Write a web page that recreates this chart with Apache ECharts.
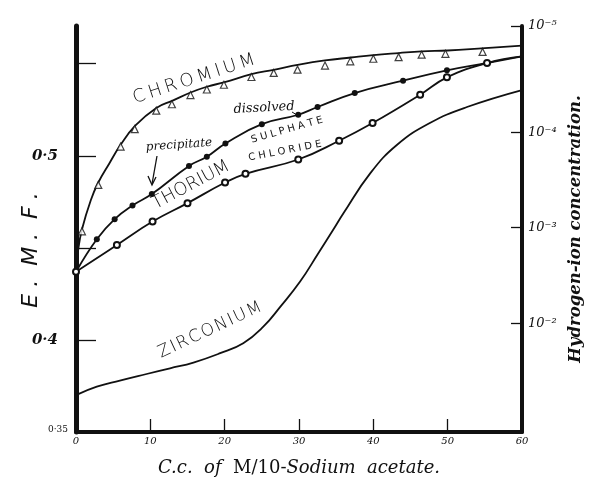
<!DOCTYPE html>
<html>
<head>
<meta charset="utf-8">
<script src="https://cdn.jsdelivr.net/npm/echarts@6/dist/echarts.min.js"></script>
<style>
html,body{margin:0;padding:0;background:#fff;}
#chart{width:590px;height:480px;}
</style>
</head>
<body>
<div id="chart"></div>
<script>
// ---- data ----
const xTickLabels = [0, 10, 20, 30, 40, 50, 60];
const emfLabelValues = [0.35, 0.4, 0.5];
const emfLabelTexts = ['0·35', '0·4', '0·5'];
const emfTickValues = [0.4, 0.45, 0.5, 0.55];
const hydrogenLabels = ['10⁻⁵', '10⁻⁴', '10⁻³', '10⁻²'];
const hydrogenEmf = [0.5705, 0.5127, 0.461, 0.4091];

const chromiumCurveX = [0, 0.3, 0.8, 2, 3, 4.5, 6, 8, 10.8, 13, 15.5, 17.6, 20, 23.6, 26.6, 30, 33.5, 37, 40, 43.4, 46.5, 50, 55, 60];
const chromiumCurveY = [0.437, 0.449, 0.460, 0.476, 0.4855, 0.496, 0.506, 0.5165, 0.526, 0.530, 0.5345, 0.5375, 0.540, 0.5443, 0.5467, 0.5495, 0.5518, 0.5534, 0.5547, 0.5558, 0.5567, 0.5572, 0.5585, 0.5598];
const chromiumMarkX = [0.8, 3.0, 6.0, 7.9, 10.8, 12.9, 15.4, 17.6, 19.9, 23.6, 26.6, 29.8, 33.5, 36.9, 40.0, 43.4, 46.5, 49.7, 54.7];
const chromiumMarkY = [0.459, 0.4842, 0.505, 0.5145, 0.5245, 0.528, 0.533, 0.536, 0.5386, 0.5428, 0.545, 0.5468, 0.549, 0.5513, 0.5527, 0.5536, 0.5549, 0.5554, 0.5564];

const sulphateX = [0, 2.8, 5.2, 7.6, 10.2, 15.2, 17.6, 20.1, 25.0, 29.9, 32.5, 37.5, 44.0, 49.9, 55.3, 60];
const sulphateY = [0.437, 0.4547, 0.4656, 0.473, 0.4792, 0.4945, 0.4995, 0.5067, 0.5172, 0.5223, 0.5265, 0.5341, 0.5408, 0.5464, 0.5504, 0.554];

const chlorideX = [0, 5.5, 10.3, 15.0, 20.05, 22.8, 29.9, 35.4, 39.9, 46.3, 49.9, 55.3, 60];
const chlorideY = [0.437, 0.4516, 0.4643, 0.4743, 0.4855, 0.4902, 0.498, 0.5082, 0.5178, 0.5332, 0.5426, 0.5504, 0.554];

const zirconiumX = [0, 2.8, 5.9, 9.5, 12.65, 15.8, 19.4, 22.5, 25.2, 27.5, 30.15, 32.6, 34.6, 36.0, 39.6, 43.2, 47.6, 52.6, 60];
const zirconiumY = [0.370, 0.3746, 0.3779, 0.3815, 0.3846, 0.3877, 0.3928, 0.3982, 0.4072, 0.4181, 0.4317, 0.4471, 0.4598, 0.4689, 0.4906, 0.506, 0.5178, 0.5265, 0.5357];

// ---- helpers ----
const zip = (xs, ys) => xs.map((x, i) => [x, ys[i]]);
// points on the right-hand axis carry no marker in the reference
const zipNoEndMark = (xs, ys) => xs.map((x, i) =>
  i === xs.length - 1 ? {value: [x, ys[i]], symbol: 'none'} : [x, ys[i]]);
const findIdx = (arr, v) => arr.findIndex(a => Math.abs(a - v) < 1e-6);
const INK = '#111';
const SERIF = '"DejaVu Serif", "Liberation Serif", serif';
const SANS = '"DejaVu Sans", "Liberation Sans", sans-serif';
const TS = '\u2009'; // thin space
const HS = '\u200A'; // hair space
const spaced = (s, sep) => s.split('').join(sep);

const chart = echarts.init(document.getElementById('chart'), null, {renderer: 'canvas'});

const option = {
  animation: false,
  backgroundColor: '#fff',
  grid: {left: 76, right: 68, top: 26, bottom: 48, containLabel: false, outerBoundsMode: 'none'},
  xAxis: {
    type: 'value', min: 0, max: 60, interval: 10,
    axisLine: {show: true, lineStyle: {color: INK, width: 4}},
    axisTick: {show: true, inside: true, length: 13, lineStyle: {color: INK, width: 1.3},
               customValues: xTickLabels.slice(1, -1)},
    axisLabel: {show: true, margin: 4, color: INK, fontFamily: SERIF, fontStyle: 'italic', fontSize: 10,
                customValues: xTickLabels, showMinLabel: true, showMaxLabel: true},
    splitLine: {show: false},
    name: '{i|C.c.  of  }{n|M/10-}{i|Sodium  acetate.}',
    nameLocation: 'middle', nameGap: 27,
    nameTextStyle: {
      rich: {
        i: {fontFamily: SERIF, fontStyle: 'italic', fontSize: 18, color: INK},
        n: {fontFamily: SERIF, fontSize: 18, color: INK}
      }
    }
  },
  yAxis: [
    {
      type: 'value', min: 0.35, max: 0.5705, position: 'left',
      axisLine: {show: true, lineStyle: {color: INK, width: 5}},
      axisTick: {show: true, inside: true, length: 20, lineStyle: {color: INK, width: 1.3},
                 customValues: emfTickValues},
      axisLabel: {
        show: true, margin: 8, customValues: emfLabelValues,
        showMinLabel: true,
        formatter: v => {
          const i = findIdx(emfLabelValues, v);
          if (i < 0) return '';
          return i === 0 ? '{s|' + emfLabelTexts[i] + '}' : '{b|' + emfLabelTexts[i] + '}';
        },
        rich: {
          s: {fontFamily: SERIF, fontSize: 9, color: INK, padding: [0, 0, 4, 0]},
          b: {fontFamily: SERIF, fontStyle: 'italic', fontWeight: 'bold', fontSize: 15, color: INK, padding: [0, 10, 0, 0]}
        }
      },
      splitLine: {show: false}
    },
    {
      type: 'value', min: 0.35, max: 0.5705, position: 'right',
      axisLine: {show: true, lineStyle: {color: INK, width: 4}},
      axisTick: {show: true, inside: true, length: 11, lineStyle: {color: INK, width: 1.3},
                 customValues: hydrogenEmf},
      axisLabel: {
        show: true, margin: 6, customValues: hydrogenEmf, showMaxLabel: true,
        color: INK, fontFamily: SERIF, fontStyle: 'italic', fontSize: 13,
        formatter: v => {
          const i = findIdx(hydrogenEmf, v);
          return i < 0 ? '' : hydrogenLabels[i];
        }
      },
      splitLine: {show: false},
      name: 'Hydrogen-ion concentration.',
      nameLocation: 'middle', nameRotate: 90, nameGap: 45,
      nameTextStyle: {fontFamily: SERIF, fontStyle: 'italic', fontWeight: 'bold', fontSize: 16.5, color: INK}
    }
  ],
  series: [
    {
      name: 'Chromium curve', type: 'line', data: zip(chromiumCurveX, chromiumCurveY),
      smooth: 0.45, showSymbol: false, symbol: 'none',
      lineStyle: {color: INK, width: 1.8}, z: 3
    },
    {
      name: 'Chromium', type: 'scatter', data: zip(chromiumMarkX, chromiumMarkY),
      symbol: 'triangle', symbolSize: 7,
      itemStyle: {color: '#fff', borderColor: INK, borderWidth: 1.2}, z: 4
    },
    {
      name: 'Thorium sulphate', type: 'line', data: zipNoEndMark(sulphateX, sulphateY),
      smooth: 0.45, symbol: 'circle', symbolSize: 6, showSymbol: true,
      lineStyle: {color: INK, width: 1.8}, itemStyle: {color: INK}, z: 4
    },
    {
      name: 'Thorium chloride', type: 'line', data: zipNoEndMark(chlorideX, chlorideY),
      smooth: 0.45, symbol: 'emptyCircle', symbolSize: 6, showSymbol: true,
      lineStyle: {color: INK, width: 1.8}, itemStyle: {color: INK, borderColor: INK, borderWidth: 1.2}, z: 4
    },
    {
      name: 'Zirconium', type: 'line', data: zip(zirconiumX, zirconiumY),
      smooth: 0.45, symbol: 'none', showSymbol: false,
      lineStyle: {color: INK, width: 1.8}, z: 3
    }
  ],
  graphic: [
    {type: 'text', x: 194, y: 79, rotation: 18 * Math.PI / 180,
     style: {text: spaced('CHROMIUM', TS), font: '200 18px ' + SANS, fill: INK, align: 'center', verticalAlign: 'middle'}},
    {type: 'text', x: 191, y: 185, rotation: 28 * Math.PI / 180,
     style: {text: 'THORIUM', font: '200 18px ' + SANS, fill: INK, align: 'center', verticalAlign: 'middle'}},
    {type: 'text', x: 210, y: 330, rotation: 25 * Math.PI / 180,
     style: {text: spaced('ZIRCONIUM', HS), font: '200 17px ' + SANS, fill: INK, align: 'center', verticalAlign: 'middle'}},
    {type: 'text', x: 287, y: 130, rotation: 16 * Math.PI / 180,
     style: {text: spaced('SULPHATE', ' '), font: '10px ' + SANS, fill: INK, align: 'center', verticalAlign: 'middle'}},
    {type: 'text', x: 285, y: 151, rotation: 11 * Math.PI / 180,
     style: {text: spaced('CHLORIDE', ' '), font: '10px ' + SANS, fill: INK, align: 'center', verticalAlign: 'middle'}},
    {type: 'text', x: 264, y: 108, rotation: 3 * Math.PI / 180,
     style: {text: 'dissolved', font: 'italic 13px ' + SERIF, fill: INK, align: 'center', verticalAlign: 'middle'}},
    {type: 'text', x: 179, y: 145, rotation: 4 * Math.PI / 180,
     style: {text: 'precipitate', font: 'italic 12px ' + SERIF, fill: INK, align: 'center', verticalAlign: 'middle'}},
    {type: 'line', shape: {x1: 157, y1: 156, x2: 152, y2: 184}, style: {stroke: INK, lineWidth: 1.3}},
    {type: 'polyline', shape: {points: [[148, 176], [152, 185], [156, 177]]}, style: {stroke: INK, lineWidth: 1.3, fill: null}},
    {type: 'line', shape: {x1: 292, y1: 112, x2: 297, y2: 115}, style: {stroke: INK, lineWidth: 1}},
    {type: 'text', x: 31, y: 250, rotation: Math.PI / 2,
     style: {text: 'E .  M .  F .', font: 'italic 22px ' + SANS, fill: INK, align: 'center', verticalAlign: 'middle'}}
  ]
};
chart.setOption(option);
</script>
</body>
</html>
